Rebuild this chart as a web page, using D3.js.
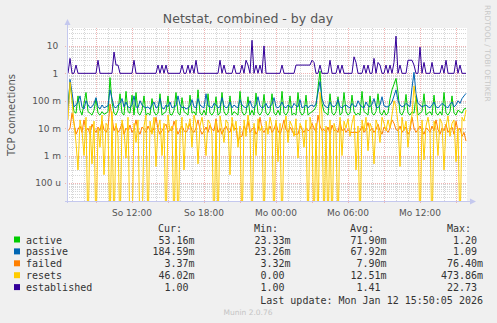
<!DOCTYPE html>
<html>
<head>
<meta charset="utf-8">
<script src="https://cdn.jsdelivr.net/npm/d3@7"></script>
<style>
  body { margin: 0; background: #f0f0f0; }
  svg { display: block; }
  text { font-family: "DejaVu Sans", sans-serif; }
  .mono { font-family: "DejaVu Sans Mono", monospace; font-size: 10px; fill: #333; }
</style>
</head>
<body>
<svg id="chart" width="497" height="323"></svg>
<script>
// series (one value per 10 minutes, milli units except established)
const seriesNames = ['active', 'passive', 'failed', 'resets', 'established']
const seriesColors = ['#00cc00', '#0066b3', '#ff8000', '#ffcc00', '#330099']

const activeM = [
  60, 450, 120, 40, 35, 150, 45, 30, 80, 200, 40, 35, 30, 45, 120, 35, 30, 40, 32, 35,
  40, 700, 90, 35, 30, 45, 180, 35, 30, 220, 40, 35, 160, 30, 200, 35, 30, 45, 150, 30,
  35, 30, 120, 40, 30, 35, 180, 30, 35, 40, 150, 32, 30, 45, 200, 35, 30, 130, 40, 35,
  30, 160, 35, 40, 30, 250, 35, 30, 45, 30, 180, 35, 30, 40, 140, 30, 35, 200, 40, 30,
  35, 150, 30, 40, 35, 30, 220, 40, 30, 35, 140, 30, 45, 30, 190, 35, 30, 40, 170, 35,
  30, 40, 180, 35, 30, 45, 30, 220, 35, 30, 40, 150, 30, 35, 30, 200, 40, 30, 35, 160,
  30, 35, 40, 45, 60, 300, 1200, 80, 40, 35, 30, 180, 35, 30, 40, 140, 30, 35, 200, 40,
  30, 35, 160, 40, 30, 35, 30, 220, 40, 35, 30, 150, 35, 30, 40, 180, 35, 30, 45, 30,
  35, 120, 250, 400, 650, 200, 35, 30, 45, 170, 35, 30, 40, 35, 150, 30, 35, 40, 180, 30,
  35, 40, 30, 160, 35, 30, 40, 30, 200, 35, 30, 40, 150, 35, 30, 45, 40, 35, 50, 53.16
]
const passiveM = [
  40, 600, 200, 60, 70, 90, 150, 60, 50, 100, 70, 55, 60, 80, 130, 60, 50, 70, 55, 60,
  65, 250, 120, 60, 55, 70, 80, 120, 60, 90, 60, 55, 70, 150, 60, 55, 100, 70, 60, 55,
  60, 50, 70, 90, 55, 60, 120, 55, 50, 70, 60, 90, 55, 60, 65, 150, 70, 55, 60, 50,
  55, 65, 110, 60, 55, 120, 70, 60, 55, 180, 65, 60, 55, 80, 70, 55, 60, 130, 65, 55,
  60, 90, 55, 70, 60, 55, 110, 70, 60, 55, 65, 100, 60, 55, 70, 140, 65, 55, 60, 80,
  55, 60, 75, 130, 60, 55, 65, 90, 60, 55, 70, 60, 55, 80, 65, 60, 110, 55, 60, 70,
  55, 65, 70, 60, 80, 200, 500, 120, 70, 60, 55, 90, 65, 60, 70, 110, 60, 55, 65, 70,
  60, 55, 80, 65, 60, 100, 70, 60, 55, 90, 65, 60, 75, 120, 60, 55, 70, 140, 65, 60,
  60, 70, 90, 150, 250, 100, 70, 60, 65, 80, 70, 60, 300, 1090, 180, 80, 70, 60, 65, 70,
  60, 55, 70, 90, 60, 55, 65, 80, 70, 60, 55, 75, 90, 60, 70, 100, 80, 120, 150, 184.59
]
const failedM = [
  8, 10, 35, 15, 6, 9, 12, 7, 20, 8, 10, 6, 14, 9, 7, 11, 8, 18, 9, 7,
  10, 76.4, 25, 8, 12, 7, 9, 15, 6, 10, 8, 13, 7, 9, 20, 8, 6, 11, 9, 7,
  12, 8, 7, 10, 25, 9, 6, 8, 11, 14, 7, 9, 8, 18, 10, 6, 9, 12, 8, 7,
  9, 15, 8, 7, 10, 20, 9, 6, 8, 11, 7, 13, 9, 8, 22, 7, 10, 6, 9, 12,
  8, 7, 15, 9, 10, 3.32, 5, 5, 12, 8, 18, 7, 9, 11, 6, 8, 25, 9, 7, 10,
  8, 12, 7, 9, 15, 8, 6, 10, 20, 9, 7, 11, 8, 6, 6, 6, 12, 9, 7, 10,
  8, 9, 15, 10, 7, 30, 12, 8, 9, 7, 11, 6, 13, 8, 9, 7, 18, 8, 10, 7,
  9, 7, 7, 7, 7, 7, 8, 12, 7, 9, 16, 8, 10, 7, 9, 14, 8, 6, 11, 9,
  7, 10, 20, 15, 9, 8, 12, 7, 9, 11, 6, 8, 25, 10, 7, 9, 12, 8, 6, 10,
  9, 7, 12, 8, 20, 9, 6, 10, 8, 14, 7, 9, 11, 6, 18, 8, 10, 5, 7, 3.37
]
const resetsM = [
  20, 473.86, 100, 15, 3, 0.3, 20, 8, 1, 25, 0, 12, 0.5, 18, 0, 10, 2, 30, 0.2, 15,
  12, 0, 40, 0, 15, 5, 0, 20, 8, 0.8, 25, 0, 0, 15, 3, 20, 0, 0, 12, 30,
  0, 18, 6, 25, 0.4, 10, 20, 1, 15, 0, 30, 8, 12, 0, 20, 0, 5, 25, 0.3, 15,
  10, 22, 2, 30, 15, 0.5, 12, 25, 8, 1, 20, 15, 6, 0, 18, 0, 28, 10, 3, 20,
  15, 0.2, 25, 8, 18, 2, 12, 0, 20, 5, 30, 10, 0, 15, 1, 22, 8, 12, 0, 18,
  6, 25, 12, 0, 20, 0.6, 15, 0, 10, 28, 3, 18, 12, 5, 22, 0.8, 15, 10, 2, 20,
  0, 25, 10, 0, 15, 0, 200, 30, 0, 12, 0, 20, 0, 15, 8, 0, 25, 1, 18, 10,
  22, 5, 15, 30, 0.3, 12, 0, 20, 8, 25, 1.5, 15, 10, 0.5, 20, 12, 3, 25, 15, 8,
  20, 10, 30, 100, 60, 15, 0.4, 25, 8, 18, 2, 12, 30, 350, 80, 15, 0, 20, 0.7, 12,
  25, 8, 0, 18, 10, 1, 22, 15, 0.3, 12, 28, 5, 15, 20, 0.6, 10, 0, 25, 18, 46.02
]
const established = [
  1, 3.5, 1, 1, 2, 1, 1, 1, 1, 1, 1, 1, 1, 1, 1, 3, 1, 1, 1, 1,
  1, 1, 1, 6, 2, 2, 1, 1, 1, 1, 1, 1, 1, 3, 1, 1, 1, 1, 1, 1,
  1, 1, 1, 1, 1, 2, 1, 2, 1, 2, 1, 1, 1, 1, 1, 1, 1, 2, 1, 1,
  2, 1, 2, 1, 3, 1, 1, 1, 1, 1, 1, 1, 1, 1, 1, 1, 3, 1, 2, 1,
  1, 1, 1, 2, 1, 1, 1, 2, 1, 3, 2, 1, 16, 1, 2, 1, 2, 1, 10, 1,
  1, 1, 1, 1, 1, 1, 1, 2, 1, 1, 1, 1, 1, 1, 2, 2, 2, 2, 2, 2,
  2, 2, 3, 2.5, 1, 1, 2, 1, 1, 1, 1, 3, 1, 1, 1, 2, 1, 2, 1, 1,
  1, 1, 1, 4, 2.5, 1, 1, 1, 2, 1, 2, 1, 1, 3.5, 1, 2.5, 2, 1, 1, 2,
  1, 2, 1, 2.5, 22.73, 1, 2, 1, 1, 1, 3, 3, 3, 2, 1, 1, 9, 1, 2.5, 1,
  1, 1, 2.5, 1, 1, 1, 1, 2, 1, 3, 1, 1, 1, 1, 3, 1, 2, 1, 1, 1
]

// legend stats (Cur, Min, Avg, Max)
const curVals = [0.05316, 0.18459, 0.00337, 0.04602, 1.00]
const minVals = [0.02333, 0.02326, 0.00332, 0, 1.00]
const avgVals = [0.07190, 0.06792, 0.00790, 0.01251, 1.41]
const maxVals = [1.20, 1.09, 0.07640, 0.47386, 22.73]

const xTickLabels = ['So 12:00', 'So 18:00', 'Mo 00:00', 'Mo 06:00', 'Mo 12:00']
const yTickValues = [1e-4, 1e-3, 1e-2, 1e-1, 1, 10]
const yTickLabels = ['100 u', '1 m', '10 m', '100 m', '1 ', '10 ']

const W = 497, H = 323
const X0 = 67, X1 = 467, YT = 28, YB = 201
const tStart = new Date(2026, 0, 11, 6, 35)
const tEnd = new Date(2026, 0, 12, 15, 55)
const STEP = 10 * 60 * 1000

const x = d3.scaleTime().domain([tStart, tEnd]).range([X0, X1])
const y = d3.scaleLog().domain([2.2e-5, 45]).range([YB, YT])

const svg = d3.select('#chart')
svg.append('rect').attr('width', W).attr('height', H).attr('fill', '#f0f0f0')
svg.append('rect').attr('x', X0).attr('y', YT).attr('width', X1 - X0).attr('height', YB - YT).attr('fill', '#fff')

// horizontal grid
const minorY = [], majorY = []
for (let e = -5; e <= 1; e++) {
  for (let k = 1; k <= 9; k++) {
    const v = k * Math.pow(10, e)
    if (v < y.domain()[0] || v > y.domain()[1]) continue
    if (k === 1) majorY.push(v)
    else minorY.push(v)
  }
}
// vertical grid: minor every hour, major every 3 hours
const hours = d3.timeHour.range(d3.timeHour.ceil(tStart), tEnd)
const minorX = hours.filter(d => d.getHours() % 3 !== 0)
const majorX = hours.filter(d => d.getHours() % 3 === 0)

const grid = svg.append('g').attr('shape-rendering', 'crispEdges')
grid.selectAll('.hmin').data(minorY).enter().append('line')
  .attr('x1', X0).attr('x2', X1)
  .attr('y1', d => Math.round(y(d)) + 0.5).attr('y2', d => Math.round(y(d)) + 0.5)
  .attr('stroke', '#d6d6d6').attr('stroke-dasharray', '1,1')
grid.selectAll('.vmin').data(minorX).enter().append('line')
  .attr('x1', d => Math.round(x(d)) + 0.5).attr('x2', d => Math.round(x(d)) + 0.5)
  .attr('y1', YT).attr('y2', YB)
  .attr('stroke', '#d6d6d6').attr('stroke-dasharray', '1,1')
grid.selectAll('.hmaj').data(majorY).enter().append('line')
  .attr('x1', X0 - 2).attr('x2', X1)
  .attr('y1', d => Math.round(y(d)) + 0.5).attr('y2', d => Math.round(y(d)) + 0.5)
  .attr('stroke', '#f0b4b4').attr('stroke-dasharray', '1,1')
grid.selectAll('.vmaj').data(majorX).enter().append('line')
  .attr('x1', d => Math.round(x(d)) + 0.5).attr('x2', d => Math.round(x(d)) + 0.5)
  .attr('y1', YT).attr('y2', YB + 2)
  .attr('stroke', '#f0b4b4').attr('stroke-dasharray', '1,1')

// series
const seriesData = [
  activeM.map(v => v / 1000),
  passiveM.map(v => v / 1000),
  failedM.map(v => v / 1000),
  resetsM.map(v => v / 1000),
  established
]
svg.append('clipPath').attr('id', 'plotclip').append('rect')
  .attr('x', X0).attr('y', YT).attr('width', X1 - X0).attr('height', YB - YT)

const line = d3.line()
  .x((d, i) => x(new Date(tStart.getTime() + (i + 0.5) * STEP)))
  .y(d => y(Math.max(d, 1e-6)))

svg.append('g').attr('clip-path', 'url(#plotclip)')
  .selectAll('path').data(seriesData).enter().append('path')
  .attr('d', line)
  .attr('fill', 'none')
  .attr('stroke', (d, i) => seriesColors[i])
  .attr('stroke-width', 1)

// axes with arrows
const axisColor = '#c4c8ee'
svg.append('line').attr('x1', X0 + 0.5).attr('x2', X0 + 0.5).attr('y1', YB + 2).attr('y2', YT - 6)
  .attr('stroke', axisColor)
svg.append('path').attr('d', `M${X0 - 2.5},${YT - 3}L${X0 + 3.5},${YT - 3}L${X0 + 0.5},${YT - 9}Z`).attr('fill', axisColor)
svg.append('line').attr('x1', X0 - 2).attr('x2', X1 + 6).attr('y1', YB + 0.5).attr('y2', YB + 0.5)
  .attr('stroke', axisColor)
svg.append('path').attr('d', `M${X1 + 3},${YB - 2.5}L${X1 + 3},${YB + 3.5}L${X1 + 9},${YB + 0.5}Z`).attr('fill', axisColor)

// y labels
svg.selectAll('.ylab').data(yTickValues).enter().append('text')
  .attr('x', 61).attr('y', d => y(d) + 3.5)
  .attr('text-anchor', 'end').attr('font-size', 9).attr('fill', '#555')
  .attr('xml:space', 'preserve').style('white-space', 'pre')
  .text((d, i) => yTickLabels[i])

// x labels
const labelTicks = hours.filter(d => d.getHours() % 6 === 0)
svg.selectAll('.xlab').data(labelTicks).enter().append('text')
  .attr('x', d => x(d)).attr('y', 216)
  .attr('text-anchor', 'middle').attr('font-size', 9).attr('fill', '#555')
  .text((d, i) => xTickLabels[i])

// title and axis title
svg.append('text').attr('x', 248).attr('y', 23).attr('text-anchor', 'middle')
  .attr('font-size', 12.5).attr('fill', '#555').text('Netstat, combined - by day')
svg.append('text').attr('transform', 'translate(15,115) rotate(-90)').attr('text-anchor', 'middle')
  .attr('font-size', 10).attr('fill', '#555').text('TCP connections')
svg.append('text').attr('transform', 'translate(485,5) rotate(90)').attr('text-anchor', 'start')
  .attr('font-size', 7.5).attr('fill', '#c8c8c8').text('RRDTOOL / TOBI OETIKER')

// legend
function fmt(v) {
  if (v === 0) return ['0.00', ' ']
  if (v >= 1) return [v.toFixed(2), ' ']
  return [(v * 1000).toFixed(2), 'm']
}
const headers = ['Cur:', 'Min:', 'Avg:', 'Max:']
const headerX = [158, 254, 350, 447]
const colX = [188.5, 284.5, 380.5, 477]
const stats = [curVals, minVals, avgVals, maxVals]

headers.forEach((h, j) => {
  svg.append('text').attr('class', 'mono').attr('x', headerX[j]).attr('y', 231.5).text(h)
})
seriesNames.forEach((name, i) => {
  const by = 243.5 + i * 11.9
  svg.append('rect').attr('x', 14).attr('y', by - 7).attr('width', 6).attr('height', 6)
    .attr('fill', seriesColors[i])
  svg.append('text').attr('class', 'mono').attr('x', 26).attr('y', by).text(name)
  stats.forEach((col, j) => {
    const [num, unit] = fmt(col[i])
    svg.append('text').attr('class', 'mono').attr('x', colX[j]).attr('y', by)
      .attr('text-anchor', 'end').text(num)
    svg.append('text').attr('class', 'mono').attr('x', colX[j]).attr('y', by).text(unit)
  })
})
svg.append('text').attr('class', 'mono').attr('x', 483).attr('y', 303.5).attr('text-anchor', 'end')
  .text('Last update: Mon Jan 12 15:50:05 2026')
svg.append('text').attr('x', 248).attr('y', 315).attr('text-anchor', 'middle')
  .attr('font-size', 7.5).attr('fill', '#c4c4c4').text('Munin 2.0.76')
</script>
</body>
</html>
